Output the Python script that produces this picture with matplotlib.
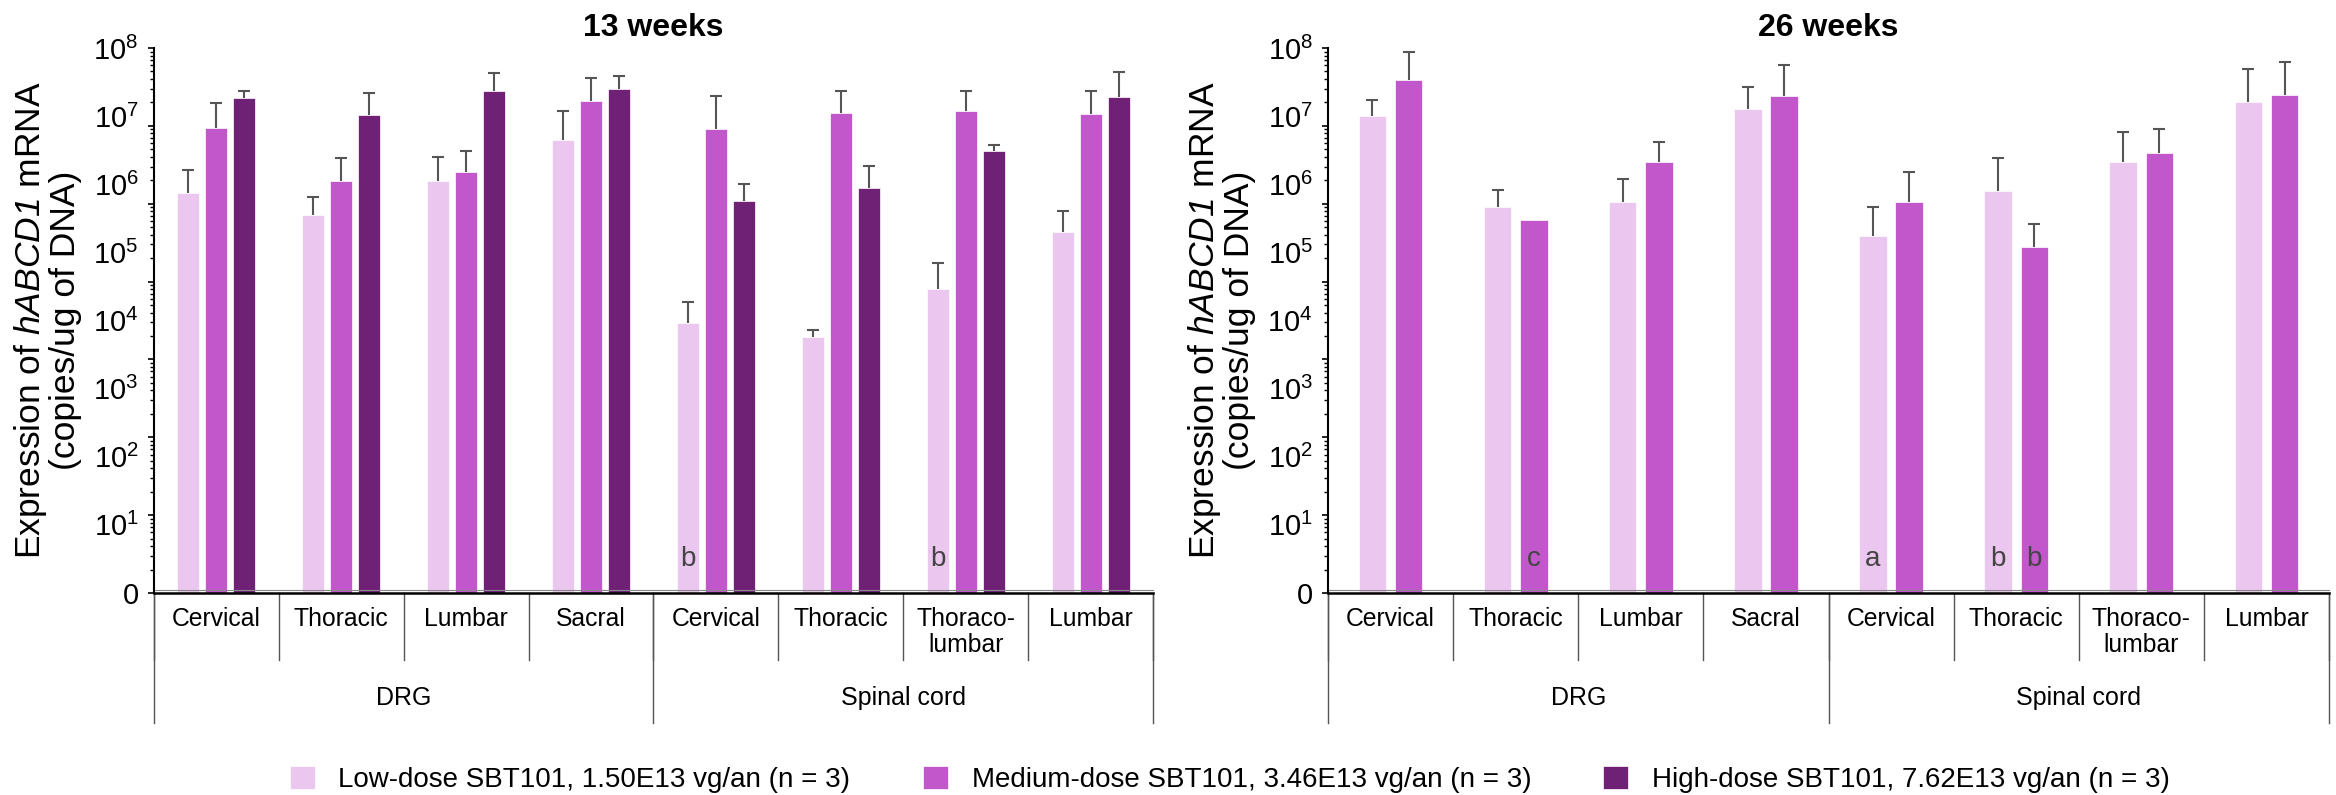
import numpy as np
import matplotlib
matplotlib.use("Agg")
import matplotlib.pyplot as plt

plt.rcParams['font.family'] = ['Liberation Sans', 'DejaVu Sans']
plt.rcParams['mathtext.fontset'] = 'custom'
plt.rcParams['mathtext.rm'] = 'Liberation Sans'
plt.rcParams['mathtext.it'] = 'Liberation Sans:italic'
plt.rcParams['mathtext.bf'] = 'Liberation Sans:bold'
# sf slot used for the italic gene name (keeps the digit italic too)
plt.rcParams['mathtext.sf'] = 'Liberation Sans:italic'

# categories (tissue / level)
levels = ['Cervical', 'Thoracic', 'Lumbar', 'Sacral',
          'Cervical', 'Thoracic', 'Thoraco-\nlumbar', 'Lumbar']
groups = ['DRG', 'Spinal cord']
group_sizes = [4, 4]

series = ['Low-dose SBT101, 1.50E13 vg/an (n = 3)',
          'Medium-dose SBT101, 3.46E13 vg/an (n = 3)',
          'High-dose SBT101, 7.62E13 vg/an (n = 3)']
colors = ['#EBC6EE', '#C257CB', '#6E2175']

# 13 weeks: mean and upper SD (copies/ug DNA)
w13_low = [7.4e5, 3.5e5, 1.1e6, 4.5e6, 9.1e3, 5.8e3, 2.9e4, 2.0e5]
w13_low_sd = [8.6e5, 3.1e5, 1.4e6, 7.5e6, 9.6e3, 1.5e3, 4.0e4, 2.1e5]
w13_med = [6.6e6, 1.1e6, 1.5e6, 1.65e7, 6.4e6, 1.1e7, 1.2e7, 1.07e7]
w13_med_sd = [8.8e6, 1.3e6, 1.6e6, 1.95e7, 1.36e7, 1.2e7, 1.1e7, 1.23e7]
w13_high = [1.87e7, 1.05e7, 2.35e7, 2.5e7, 5.7e5, 8.7e5, 3.1e6, 1.9e7]
w13_high_sd = [4.8e6, 1.15e7, 1.95e7, 1.4e7, 4.3e5, 1.0e6, 7.0e5, 2.6e7]

# 26 weeks: only low and medium dose
w26_low = [1.02e7, 4.6e5, 5.4e5, 1.26e7, 1.74e5, 8.0e5, 2.1e6, 1.6e7]
w26_low_sd = [6.8e6, 3.6e5, 6.6e5, 1.44e7, 2.86e5, 1.6e6, 3.8e6, 3.4e7]
w26_med = [3.4e7, 3.0e5, 2.1e6, 2.0e7, 5.4e5, 1.2e5, 2.9e6, 2.05e7]
w26_med_sd = [5.3e7, np.nan, 2.1e6, 3.6e7, 9.6e5, 1.4e5, 3.6e6, 4.25e7]

# footnote letters: (category index, series index, letter)
w13_notes = [(4, 0, 'b'), (6, 0, 'b')]
w26_notes = [(1, 1, 'c'), (4, 0, 'a'), (5, 0, 'b'), (5, 1, 'b')]

panels = [
    ('13 weeks', [w13_low, w13_med, w13_high], [w13_low_sd, w13_med_sd, w13_high_sd],
     w13_notes, 0.176, 0.224),
    ('26 weeks', [w26_low, w26_med], [w26_low_sd, w26_med_sd],
     w26_notes, 0.22, 0.29),
]

fig = plt.figure(figsize=(23.36, 7.95), dpi=100)
axes_pos = [[0.0659, 0.2541, 0.4277, 0.6855],
            [0.5685, 0.2541, 0.4285, 0.6855]]

x = np.arange(len(levels))
for (title, means, sds, notes, bw, step), pos in zip(panels, axes_pos):
    ax = fig.add_axes(pos)
    n = len(means)
    offs = (np.arange(n) - (n - 1) / 2) * step
    for i in range(n):
        m = np.array(means[i])
        s = np.array(sds[i])
        ax.bar(x + offs[i], m, bw, color=colors[i], edgecolor='white',
               linewidth=0.5, label=series[i], zorder=2)
        eb = ax.errorbar(x + offs[i], m, yerr=[np.zeros_like(s), s], fmt='none',
                         ecolor='#555555', elinewidth=1.5, capsize=4.5,
                         capthick=1.5, zorder=3)
        eb[1][0].set_visible(False)
    for ci, si, letter in notes:
        ax.text(x[ci] + offs[si], 0.062, letter, transform=ax.get_xaxis_transform(),
                ha='center', va='center', fontsize=20, color='#444444')

    ax.set_yscale('log')
    ax.set_ylim(1, 1e8)
    ax.set_xlim(-0.5, len(levels) - 0.5)
    ax.set_yticks([10.0 ** k for k in range(9)])
    ax.set_yticklabels(['0'] + ['$10^{%d}$' % k for k in range(1, 9)])
    ax.yaxis.set_minor_locator(matplotlib.ticker.NullLocator())
    ax.tick_params(axis='y', length=0, pad=11, labelsize=21)
    ax.set_xticks([])
    for sp in ['top', 'right']:
        ax.spines[sp].set_visible(False)
    ax.spines['left'].set_linewidth(1.5)
    ax.spines['bottom'].set_linewidth(1.8)
    ax.plot([0, 1], [0.006, 0.006], transform=ax.transAxes, color='#888888',
            lw=0.8, clip_on=False)
    ax.set_ylabel('Expression of $\\mathsf{hABCD1}$ mRNA\n(copies/ug of DNA)',
                  fontsize=25.5, labelpad=8, linespacing=1.0)
    ax.set_title(title, fontsize=23, fontweight='bold', pad=9)

    # tick marks of the original span 10^1..10^8
    ax_t = ax.twinx()
    ax_t.set_yscale('log')
    ax_t.set_ylim(10, 1e8)
    ax_t.yaxis.set_ticks_position('left')
    ax_t.tick_params(axis='y', which='major', length=4, width=1.2, labelleft=False, labelright=False)
    ax_t.tick_params(axis='y', which='minor', length=3, width=1, labelleft=False, labelright=False)
    for sp in ax_t.spines.values():
        sp.set_visible(False)

    # category / group axis below
    tr = ax.get_xaxis_transform()
    for k in range(len(levels) + 1):
        ax.plot([k - 0.5, k - 0.5], [0, -0.123], transform=tr, color='#555555',
                lw=1, clip_on=False)
    for k, lab in enumerate(levels):
        ax.text(k, -0.025, lab, transform=tr, ha='center', va='top',
                fontsize=17.8, linespacing=1.15)
    start = 0
    for g, size in zip(groups, group_sizes):
        ax.plot([start - 0.5, start - 0.5], [0, -0.2385], transform=tr,
                color='#555555', lw=1, clip_on=False)
        ax.text(start + (size - 1) / 2, -0.193, g, transform=tr, ha='center',
                va='center', fontsize=18)
        start += size
    ax.plot([start - 0.5, start - 0.5], [0, -0.2385], transform=tr,
            color='#555555', lw=1, clip_on=False)

    if title == '13 weeks':
        handles, labels = ax.get_legend_handles_labels()

fig.legend(handles, labels, loc='center', bbox_to_anchor=(0.5265, 0.019), ncol=3,
           frameon=False, fontsize=20, handlelength=0.9, handleheight=0.9,
           handletextpad=0.86, columnspacing=2.6, borderaxespad=0, borderpad=0)

fig.savefig('out.png', dpi=100, facecolor='white')
